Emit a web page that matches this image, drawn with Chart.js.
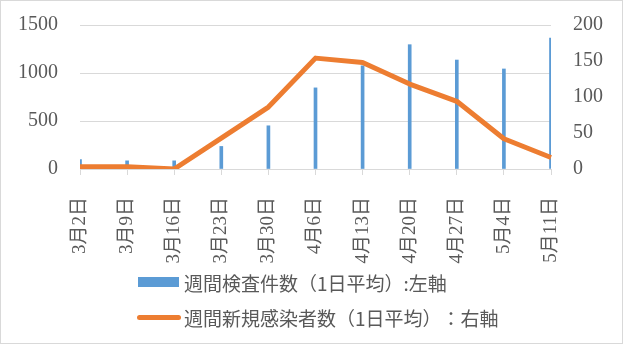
<!DOCTYPE html>
<html>
<head>
<meta charset="utf-8">
<script src="https://cdn.jsdelivr.net/npm/chart.js@4"></script>
<style>
  html, body { margin: 0; padding: 0; background: #fff; }
  #wrap { position: relative; width: 623px; height: 344px; border: 1px solid #d9d9d9; box-sizing: border-box; overflow: hidden; }
  #chart { position: absolute; left: 0; top: 0; }
  .legend-row { position: absolute; left: 136px; height: 24px; display: flex; align-items: center;
    font-family: "Noto Sans CJK JP", sans-serif; font-size: 19px; color: #595959; white-space: nowrap;
    text-spacing-trim: space-all; }
  .swatch-box { width: 41px; height: 10px; background: #5B9BD5; margin-left: 1px; margin-right: 5px; }
  .swatch-line { width: 44px; height: 5px; border-radius: 3px; background: #ED7D31; margin-right: 3px; }
</style>
</head>
<body>
<div id="wrap">
  <canvas id="chart" width="623" height="344"></canvas>
  <div class="legend-row" style="top:269px"><span class="swatch-box"></span><span id="lg1"></span></div>
  <div class="legend-row" style="top:304px"><span class="swatch-line"></span><span id="lg2"></span></div>
</div>
<script>
// weekly data (1日平均)
const labels = ['3月2日', '3月9日', '3月16日', '3月23日', '3月30日', '4月6日', '4月13日', '4月20日', '4月27日', '5月4日', '5月11日'];
const tests = [97, 85, 85, 235, 450, 845, 1075, 1295, 1135, 1042, 1365];
const cases = [3, 3, 0, 43, 86, 154, 148, 118, 94, 42, 16];
const testsLabel = '週間検査件数（1日平均）:左軸';
const casesLabel = '週間新規感染者数（1日平均）：右軸';

const tickColor = '#595959';
const gridColor = '#d9d9d9';
const numFont = { family: '"Liberation Serif", "Noto Sans CJK JP", serif', size: 20 };

document.getElementById('lg1').textContent = testsLabel;
document.getElementById('lg2').textContent = casesLabel;

// fixed axis sizes so the plot area lands where the original one is
function fitY(w) {
    return function (scale) {
        scale.width = w;
        scale.paddingTop = 0;
        scale.paddingBottom = 0;
    };
}

const ctx = document.getElementById('chart').getContext('2d');
const chart = new Chart(ctx, {
    type: 'bar',
    data: {
        labels: labels,
        datasets: [{
            type: 'line',
            label: casesLabel,
            data: cases,
            yAxisID: 'y1',
            borderColor: '#ED7D31',
            backgroundColor: '#ED7D31',
            borderWidth: 5,
            pointRadius: 0,
            tension: 0,
            borderJoinStyle: 'round',
            order: 0
        }, {
            type: 'bar',
            label: testsLabel,
            data: tests,
            yAxisID: 'y',
            backgroundColor: '#5B9BD5',
            barThickness: 3,
            order: 1
        }]
    },
    options: {
        responsive: false,
        animation: false,
        layout: { padding: { top: 24, left: 0, right: 0, bottom: 0 } },
        plugins: {
            legend: { display: false },
            tooltip: { enabled: false }
        },
        scales: {
            x: {
                offset: false,
                grid: { offset: false, drawOnChartArea: false, drawTicks: true, tickLength: 6, color: gridColor },
                border: { color: gridColor },
                ticks: {
                    color: tickColor,
                    font: { family: '"Liberation Serif", "Noto Sans CJK JP", serif', size: 19 },
                    minRotation: 90,
                    maxRotation: 90,
                    autoSkip: false,
                    padding: 22
                },
                afterFit: function (scale) {
                    scale.height = 176;
                    scale.paddingLeft = 0;
                    scale.paddingRight = 0;
                }
            },
            y: {
                position: 'left',
                min: 0,
                max: 1500,
                grid: { color: gridColor, drawTicks: false },
                border: { display: false },
                ticks: {
                    stepSize: 500, color: tickColor, font: numFont, padding: 22,
                    callback: function (v) { return String(v); }
                },
                afterFit: fitY(79)
            },
            y1: {
                position: 'right',
                min: 0,
                max: 200,
                grid: { drawOnChartArea: false, drawTicks: false },
                border: { display: false },
                ticks: {
                    stepSize: 50, color: tickColor, font: numFont, padding: 22,
                    callback: function (v) { return String(v); }
                },
                afterFit: fitY(73)
            }
        }
    }
});
</script>
</body>
</html>
